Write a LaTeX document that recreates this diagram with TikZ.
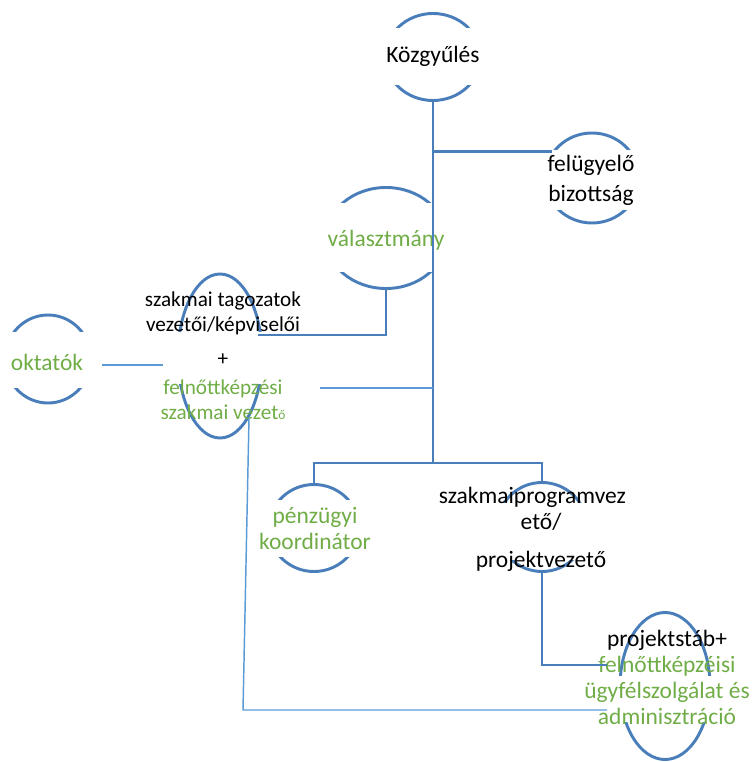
\documentclass[tikz,border=0pt]{standalone}
\usepackage{fontspec}
\setmainfont{Carlito}
\usetikzlibrary{shapes.geometric}
\definecolor{CB}{RGB}{74,126,187}
\definecolor{CL}{RGB}{91,155,213}
\definecolor{CG}{RGB}{112,173,71}

\begin{document}
\begin{tikzpicture}[x=0.75pt, y=-0.75pt,
  orb/.style 2 args={ellipse, draw=CB, line width=2.2pt,
                     minimum width=#1*0.75pt, minimum height=#2*0.75pt, inner sep=0pt},
  veil/.style={fill=white},
  lbl/.style={align=center, inner sep=0pt, font=\fontsize{17.6}{19.5}\selectfont},
  sml/.style={align=center, inner sep=0pt, font=\fontsize{15.9}{19}\selectfont},
  tie/.style={draw=CB, line width=2.2pt},
  tie2/.style={draw=CL, line width=1.1pt}
]
\useasboundingbox (0,0) rectangle (752,762);

% Ellipses
\node[orb={95}{87}]   (kozgB)   at (433,57)  {};
\node[orb={94}{90}]   (felugyB) at (592,178) {};
\node[orb={120}{101}] (valaszB) at (386,238) {};
\node[orb={86}{88}]   (oktB)    at (48,359)  {};
\node[orb={84}{164}]  (tagozB)  at (220,356) {};
\node[orb={90}{87}]   (penzB)   at (314,528) {};
\node[orb={90}{89}]   (szprogB) at (542,527) {};
\node[orb={90}{147}]  (projB)   at (665,686) {};

% White text boxes hiding the sides
\fill[veil] (380,28)  rectangle (486,85);
\fill[veil] (540,150) rectangle (645,210);
\fill[veil] (320,203) rectangle (452,272);
\fill[veil] (-5,332)  rectangle (100,388);
\fill[veil] (170,332) rectangle (272,384);
\fill[veil] (262,500) rectangle (368,557);
\fill[veil] (490,503) rectangle (595,560);
\fill[veil] (615,676) rectangle (715,722);

% Texts
\node[lbl] (kozgT) at (433,56) {Közgyűlés};
\node[lbl, font=\fontsize{17.6}{22.5}\selectfont] (felugyT) at (591,180)
  {felügyelő\\bizottság};
\node[lbl, text=CG] (valaszT) at (386,240) {választmány};
\node[lbl, text=CG] (oktT) at (47,362) {oktatók};
\node[sml] (tagozT) at (223,356)
  {szakmai tagozatok\\vezetői/képviselői\\[6pt]+\\[3pt]
   \textcolor{CG}{felnőttképzési}\\
   \textcolor{CG}{szakmai vezet{\fontsize{10}{12}\selectfont ő}}};
\node[lbl, text=CG] (penzT) at (315,529) {pénzügyi\\koordinátor};
\node[lbl] (szprogT) at (541,529)
  {szakmaiprogramvez\hspace*{13pt}\\ető/\\[9pt]projektvezető};
\node[lbl] (projT) at (667,677)
  {projektstáb+\\\textcolor{CG}{felnőttképzéisi}\\
   \textcolor{CG}{ügyfélszolgálat és}\\\textcolor{CG}{adminisztráció}};

% Connectors
\coordinate (j1) at (kozgB.south |- felugyB.146);
\coordinate (j2) at (kozgB.south |- 0,388);
\coordinate (j3) at (kozgB.south |- 0,463);
\coordinate (c1) at (258,335);
\coordinate (c2) at (320,388);
\coordinate (c3) at (607,665);
\coordinate (c4) at (243,710);
\coordinate (c5) at (607,710);
\coordinate (o1) at (102,365);
\coordinate (o2) at (163,365);

\draw[tie] (kozgB.south) -- (j3);
\draw[tie] (j1) -- (felugyB.146);
\draw[tie] (valaszB.south) |- (c1);
\draw[tie] (penzB.north) |- (j3) -| (szprogB.north);
\draw[tie] (szprogB.south) |- (c3);

\draw[tie2] (o1) -- (o2);
\draw[tie2] (c2) -- (j2);
\draw[tie2] (tagozB.-65) -- (c4) -- (c5);
\end{tikzpicture}
\end{document}
